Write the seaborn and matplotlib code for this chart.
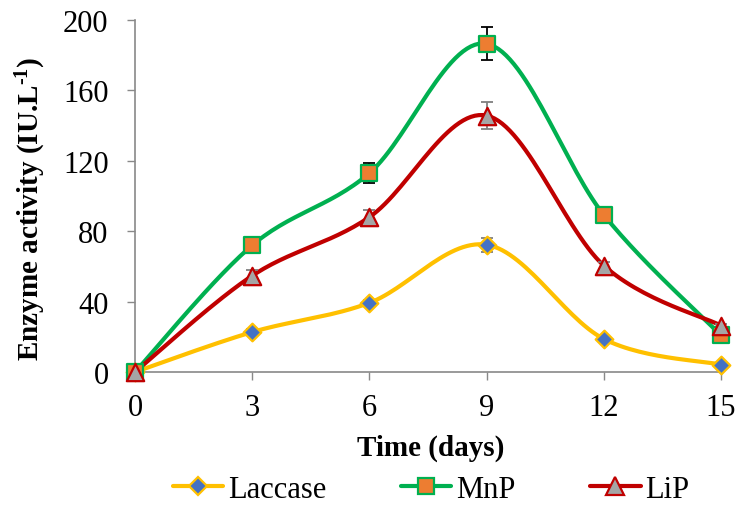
import numpy as np
import pandas as pd
import matplotlib
matplotlib.use("Agg")
import matplotlib.pyplot as plt
import seaborn as sns
from matplotlib.lines import Line2D

days = [0, 3, 6, 9, 12, 15]
laccase = [0, 22.7, 39.3, 72.3, 18.8, 4.2]
mnp = [0, 72, 113, 186.5, 89.3, 20.8]
lip = [0, 54.7, 88, 145.7, 60.5, 26.4]
laccase_err = [0, 1.5, 1.5, 4, 1, 0.5]
mnp_err = [0, 1.5, 5.5, 9.5, 2, 1]
lip_err = [0, 3, 4, 7.5, 2, 1]
series_names = ["Laccase", "MnP", "LiP"]

sns.set_theme(style="white")
plt.rcParams['font.family'] = ['Liberation Serif', 'DejaVu Serif']
plt.rcParams['mathtext.fontset'] = 'custom'
plt.rcParams['mathtext.bf'] = 'Liberation Serif:bold'
plt.rcParams['mathtext.rm'] = 'Liberation Serif:bold'
plt.rcParams['mathtext.default'] = 'bf'
plt.rcParams['text.color'] = 'black'
plt.rcParams['axes.labelcolor'] = 'black'
plt.rcParams['xtick.labelcolor'] = 'black'
plt.rcParams['ytick.labelcolor'] = 'black'

def smooth(x, y, n=30):
    # Excel-like Bezier smoothing through data points
    x = np.asarray(x, float); y = np.asarray(y, float)
    P = np.column_stack([x, y])
    out = []
    for i in range(len(P) - 1):
        p0 = P[i - 1] if i > 0 else P[i]
        p1 = P[i]; p2 = P[i + 1]
        p3 = P[i + 2] if i + 2 < len(P) else P[i + 1]
        c1 = p1 + (p2 - p0) / 6
        c2 = p2 - (p3 - p1) / 6
        t = np.linspace(0, 1, n, endpoint=(i == len(P) - 2))[:, None]
        b = (1 - t) ** 3 * p1 + 3 * (1 - t) ** 2 * t * c1 + 3 * (1 - t) * t ** 2 * c2 + t ** 3 * p2
        out.append(b)
    b = np.vstack(out)
    return b[:, 0], b[:, 1]

fig = plt.figure(figsize=(7.36, 5.06), dpi=100)
ax = fig.add_axes([0.1834, 0.2628, 0.7962, 0.6957])

styles = [
    dict(name="Laccase", y=laccase, err=laccase_err, line="#FFC000", marker="D", face="#4472C4", edge="#FFC000", ms=9, ecol="#7F7F7F"),
    dict(name="MnP", y=mnp, err=mnp_err, line="#00B050", marker="s", face="#ED7D31", edge="#00B050", ms=11.5, ecol="#000000"),
    dict(name="LiP", y=lip, err=lip_err, line="#C00000", marker="^", face="#A5A5A5", edge="#C00000", ms=12.5, ecol="#7F7F7F"),
]

handles = []
for s in styles:
    sx, sy = smooth(days, s["y"])
    df = pd.DataFrame({"x": sx, "y": sy})
    sns.lineplot(data=df, x="x", y="y", ax=ax, color=s["line"], linewidth=3, sort=False, zorder=2)
    ax.errorbar(days, s["y"], yerr=s["err"], fmt="none", ecolor=s["ecol"], elinewidth=1.3, capsize=4.5, capthick=1.3, zorder=3)
    sns.scatterplot(x=days, y=s["y"], ax=ax, marker=s["marker"], s=s["ms"] ** 2, color=s["face"],
                    edgecolor=s["edge"], linewidth=1.6, zorder=4)
    handles.append(Line2D([0], [0], color=s["line"], lw=3, marker=s["marker"], markerfacecolor=s["face"],
                          markeredgecolor=s["edge"], markeredgewidth=1.6, markersize=s["ms"]))

ax.set_xlim(0, 15)
ax.set_ylim(0, 200)
ax.set_xticks(days)
ax.set_yticks([0, 40, 80, 120, 160, 200])
ax.tick_params(axis="both", labelsize=22, length=6, width=1, color="#898989", direction="out",
               bottom=True, left=True, labelcolor="black")
ax.tick_params(axis="y", pad=13)
ax.tick_params(axis="x", pad=9)
for sp in ["top", "right"]:
    ax.spines[sp].set_visible(False)
for sp in ["left", "bottom"]:
    ax.spines[sp].set_color("#898989")
    ax.spines[sp].set_linewidth(1.2)
for c in ax.collections + ax.lines:
    c.set_clip_on(False)

ax.set_xlabel("Time (days)", fontsize=21, fontweight="bold", color="black")
ax.xaxis.set_label_coords(0.505, -0.175)
ax.set_ylabel(r"Enzyme activity (IU.L$^{\text{-1}}$)", fontsize=21, fontweight="bold", color="black")
ax.yaxis.set_label_coords(-0.149, 0.465)

leg = fig.legend(handles, series_names, loc="center", bbox_to_anchor=(0.5856, 0.031), ncol=3, frameon=False,
                 fontsize=22, handlelength=1.65, columnspacing=2.45, handletextpad=0.15)
for t in leg.get_texts():
    t.set_color("black")

fig.savefig("out.png", dpi=100)
